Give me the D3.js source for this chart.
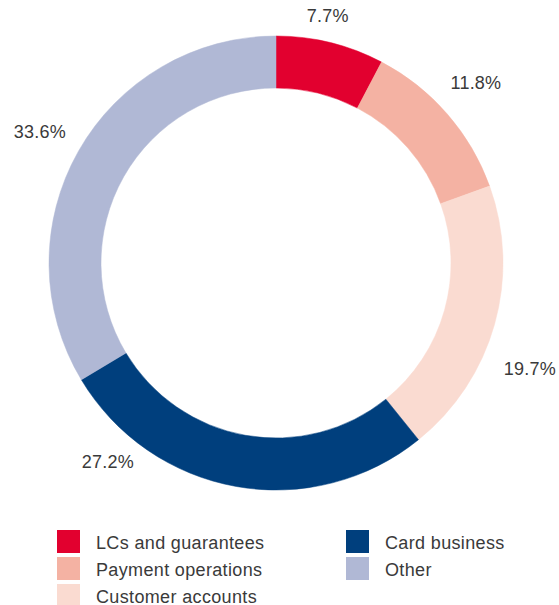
<!DOCTYPE html>
<html>
<head>
<meta charset="utf-8">
<script src="https://cdn.jsdelivr.net/npm/d3@7"></script>
<style>
  html, body { margin: 0; padding: 0; background: #fff; }
  svg { display: block; }
</style>
</head>
<body>
<svg id="chart" width="559" height="605"></svg>
<script>
// ---- data ----
const categories = ["LCs and guarantees", "Payment operations", "Customer accounts", "Card business", "Other"];
const shares = [7.7, 11.8, 19.7, 27.2, 33.6];
const valueLabels = ["7.7%", "11.8%", "19.7%", "27.2%", "33.6%"];
const colors = ["#e2002f", "#f4b2a3", "#fadbd1", "#003f7d", "#b0b8d5"];
// label placement (angle in degrees clockwise from 12 o'clock, distance from centre)
const labelAngles = [11.8, 48.0, 112.6, 220.3, 299.0];
const labelRadii = [253, 269, 275, 260, 270];
const legendColumns = [[0, 1, 2], [3, 4]];

// ---- layout ----
const svg = d3.select("#chart");
const cx = 276, cy = 263;
const outerR = 227, innerR = 175;
const font = "'Liberation Sans', Arial, sans-serif";
const textColor = "#3a3a3a";

const pie = d3.pie().sort(null).value(d => d)(shares);
const arc = d3.arc().innerRadius(innerR).outerRadius(outerR);

const g = svg.append("g").attr("transform", `translate(${cx},${cy})`);
g.selectAll("path.slice")
  .data(pie)
  .join("path")
  .attr("class", "slice")
  .attr("d", arc)
  .attr("fill", (d, i) => colors[i])
  .attr("stroke", (d, i) => colors[i])
  .attr("stroke-width", 0.5);

g.selectAll("text.val")
  .data(pie)
  .join("text")
  .attr("class", "val")
  .attr("x", (d, i) => labelRadii[i] * Math.sin(labelAngles[i] * Math.PI / 180))
  .attr("y", (d, i) => -labelRadii[i] * Math.cos(labelAngles[i] * Math.PI / 180))
  .attr("text-anchor", "middle")
  .attr("dy", "0.35em")
  .attr("font-family", font)
  .attr("font-size", 18)
  .attr("letter-spacing", 0.2)
  .attr("fill", textColor)
  .text((d, i) => valueLabels[i]);

// ---- legend ----
const colX = d3.scaleOrdinal().domain([0, 1]).range([57, 346]);
const rowY = d3.scalePoint().domain([0, 1, 2]).range([530, 584]);
const sw = 23;
legendColumns.forEach((col, c) => {
  const lg = svg.append("g");
  col.forEach((idx, r) => {
    lg.append("rect")
      .attr("x", colX(c))
      .attr("y", rowY(r))
      .attr("width", sw)
      .attr("height", sw)
      .attr("fill", colors[idx]);
    lg.append("text")
      .attr("x", colX(c) + 39)
      .attr("y", rowY(r) + 19)
      .attr("font-family", font)
      .attr("font-size", 18)
      .attr("letter-spacing", 0.35)
      .attr("fill", textColor)
      .text(categories[idx]);
  });
});
</script>
</body>
</html>
